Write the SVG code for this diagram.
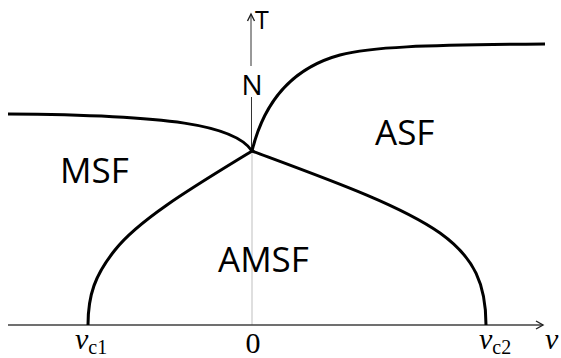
<svg xmlns="http://www.w3.org/2000/svg" width="561" height="358" viewBox="0 0 561 358">
<style>
.curve{fill:none;stroke:#000;stroke-width:3;stroke-linecap:butt}
.axis{fill:none;stroke:#404040;stroke-width:1.4}
.vaxis{fill:none;stroke:#333;stroke-width:1}
.guide{fill:none;stroke:#d4d4d4;stroke-width:1.5}
.head{fill:none;stroke:#222;stroke-width:1.4;stroke-linejoin:miter}
.region{font-family:"Open Sans","Liberation Sans",sans-serif;font-size:35px;fill:#000}
.lbl{font-family:"Open Sans","Liberation Sans",sans-serif;fill:#000}
.math{font-family:"Liberation Serif","Times New Roman",serif;fill:#000}
</style>
<rect width="561" height="358" fill="#fff"/>
<g id="axes">
<line class="guide" x1="252" y1="152" x2="252" y2="325"/>
<line class="axis" x1="8" y1="325" x2="543" y2="325"/>
<polyline class="head" points="536,321 543,325 536,329"/>
<line class="vaxis" x1="251.5" y1="151" x2="251.5" y2="97"/>
<line class="vaxis" x1="251" y1="66" x2="251" y2="14"/>
<polyline class="head" points="247.5,21 251,14 254.5,21"/>
</g>
<g id="connectors">
<path class="curve" d="M8,114 C170,115 235,125 252,151"/>
<path class="curve" d="M252,151 C262,110 285,70 340,55 C370,47 420,45 545,44"/>
<path class="curve" d="M252,151 C200,183 140,218 115,250 C95,275 88,295 88,325"/>
<path class="curve" d="M252,151 C330,180 400,205 440,233 C475,258 486,285 486,325"/>
</g>
<g id="node-MSF"><text class="region" x="60" y="183">MSF</text></g>
<g id="node-ASF"><text class="region" x="375" y="145">ASF</text></g>
<g id="node-AMSF"><text class="region" x="218" y="272">AMSF</text></g>
<g id="node-T"><text class="lbl" x="255" y="29" font-size="25">T</text></g>
<g id="node-N"><text class="lbl" x="252" y="95" font-size="28" text-anchor="middle">N</text></g>
<g id="node-vc1"><text class="math" x="75" y="349" font-size="30"><tspan font-style="italic">v</tspan><tspan font-size="20" dy="5">c1</tspan></text></g>
<g id="node-zero"><text class="math" x="253" y="353" font-size="30" text-anchor="middle">0</text></g>
<g id="node-vc2"><text class="math" x="479" y="349" font-size="30"><tspan font-style="italic">v</tspan><tspan font-size="20" dy="5">c2</tspan></text></g>
<g id="node-v"><text class="math" x="545" y="349" font-size="30" font-style="italic">v</text></g>
</svg>
